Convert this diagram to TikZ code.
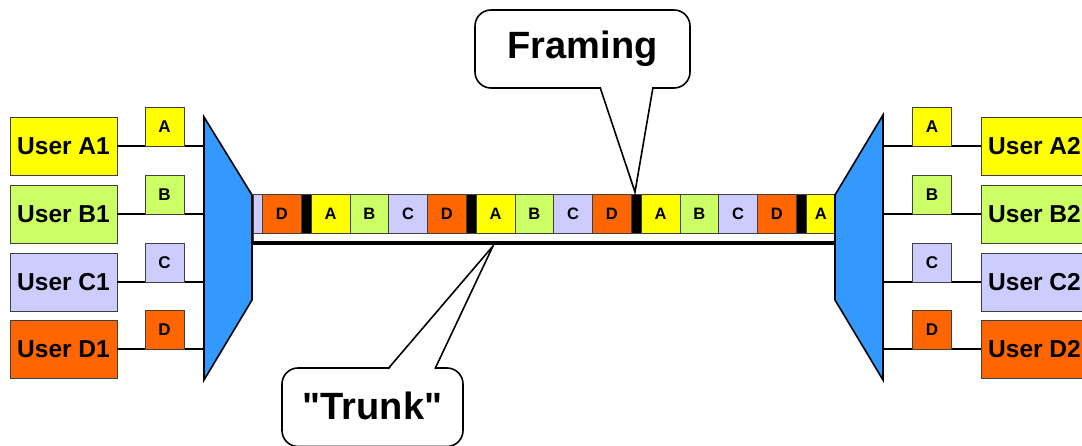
\documentclass[tikz,border=0pt]{standalone}
\usepackage{fontspec}
\setmainfont{Liberation Sans}
\newfontfamily\plainsans{Liberation Sans}
\definecolor{cA}{HTML}{FFFF00}
\definecolor{cB}{HTML}{CCFF66}
\definecolor{cC}{HTML}{CCCCFF}
\definecolor{cD}{HTML}{FF6600}
\definecolor{muxblue}{HTML}{3399FF}
\definecolor{edge}{HTML}{404040}
\begin{document}
\begin{tikzpicture}[x=1pt,y=-1pt,
  userbox/.style={draw=edge, line width=0.9pt, minimum width=107pt, minimum height=58pt, inner sep=0pt, font=\fontsize{24.5}{25}\selectfont\bfseries},
  tagbox/.style={draw=edge, line width=0.9pt, minimum width=39pt, minimum height=39pt, inner sep=0pt, font=\fontsize{17}{17}\selectfont\bfseries},
  cellbox/.style={draw=edge, line width=0.8pt, minimum height=39pt, inner sep=0pt, anchor=west, font=\fontsize{16.5}{17}\selectfont\bfseries},
  muxshape/.style={fill=muxblue, draw=black, line width=1.6pt, line join=miter},
  wire/.style={draw=black, line width=1.6pt},
  callout/.style={draw=black, fill=white, line width=1.6pt, rounded corners=16pt},
  pointer/.style={draw=black, line width=1.6pt, line join=miter},
  callouttext/.style={font=\fontsize{38}{38}\selectfont\bfseries, inner sep=0pt}
]
\useasboundingbox (0,0) rectangle (1082,446);

% trunk
\draw[draw=edge, line width=0.8pt, fill=white] (253,194) rectangle (835,243);
\draw[line width=4pt] (253,243) -- (835,243);

% cells
\node[cellbox, fill=cC, minimum width=9pt] (c0) at (253,213.5) {};
\foreach \k in {0,1,2}{
  \pgfmathsetmacro{\s}{262+165*\k}
  \node[cellbox, fill=cD, minimum width=38.75pt] (d\k) at (\s,213.5) {D};
  \node[cellbox, fill=black, minimum width=10pt] (f\k) at (\s+38.75,213.5) {};
  \node[cellbox, fill=cA, minimum width=38.75pt] (a\k) at (\s+48.75,213.5) {A};
  \node[cellbox, fill=cB, minimum width=38.75pt] (b\k) at (\s+87.5,213.5) {B};
  \node[cellbox, fill=cC, minimum width=38.75pt] (cc\k) at (\s+126.25,213.5) {C};
}
\node[cellbox, fill=cD, minimum width=38.75pt] (d3) at (757,213.5) {D};
\node[cellbox, fill=black, minimum width=10pt] (f3) at (795.75,213.5) {};
\node[cellbox, fill=cA, minimum width=29.25pt] (a3) at (805.75,213.5) {A};

% muxes
\draw[muxshape] (204,117) -- (252,195) -- (252,300) -- (204,380) -- cycle;
\draw[muxshape] (883,115) -- (835,195) -- (835,300) -- (883,380) -- cycle;

% mux ports
\coordinate (mlA) at (204,146);
\coordinate (mlB) at (204,214);
\coordinate (mlC) at (204,282);
\coordinate (mlD) at (204,349);
\coordinate (mrA) at (883,146);
\coordinate (mrB) at (883,214);
\coordinate (mrC) at (883,282);
\coordinate (mrD) at (883,349);

% left users
\node[userbox, fill=cA] (uA1) at (63.5,146) {User A1};
\node[userbox, fill=cB] (uB1) at (63.5,214) {User B1};
\node[userbox, fill=cC] (uC1) at (63.5,282) {User C1};
\node[userbox, fill=cD] (uD1) at (63.5,349) {User D1};
% right users
\node[userbox, fill=cA] (uA2) at (1034.5,146) {User A2};
\node[userbox, fill=cB] (uB2) at (1034.5,214) {User B2};
\node[userbox, fill=cC] (uC2) at (1034.5,282) {User C2};
\node[userbox, fill=cD] (uD2) at (1034.5,349) {User D2};

% wires
\draw[wire] (uA1.east) -- (mlA);
\draw[wire] (uB1.east) -- (mlB);
\draw[wire] (uC1.east) -- (mlC);
\draw[wire] (uD1.east) -- (mlD);
\draw[wire] (mrA) -- (uA2.west);
\draw[wire] (mrB) -- (uB2.west);
\draw[wire] (mrC) -- (uC2.west);
\draw[wire] (mrD) -- (uD2.west);

% tags
\node[tagbox, fill=cA] (tA1) at (164.5,126.5) {A};
\node[tagbox, fill=cB] (tB1) at (164.5,194.5) {B};
\node[tagbox, fill=cC] (tC1) at (164.5,262.5) {C};
\node[tagbox, fill=cD] (tD1) at (164.5,329.5) {D};
\node[tagbox, fill=cA] (tA2) at (932,126.5) {A};
\node[tagbox, fill=cB] (tB2) at (932,194.5) {B};
\node[tagbox, fill=cC] (tC2) at (932,262.5) {C};
\node[tagbox, fill=cD] (tD2) at (932,329.5) {D};

% Framing callout
\coordinate (ftip) at (635,192);
\draw[callout] (475,10) rectangle (690,88);
\fill[white] (600.5,86) -- (ftip) -- (652.5,86) -- cycle;
\draw[pointer] (600,87.2) -- (ftip) -- (653,87.2);
\node[callouttext] (framing) at (582.5,49) {Framing};

% Trunk callout
\coordinate (ttip) at (493,246);
\draw[callout] (282,368) rectangle (463,446.5);
\fill[white] (388.5,370) -- (ttip) -- (434.5,370) -- cycle;
\draw[pointer] (388,368.8) -- (ttip) -- (435,368.8);
\node[callouttext] (trunk) at (372.5,406) {{\plainsans\bfseries "Trunk"}};
\end{tikzpicture}
\end{document}
